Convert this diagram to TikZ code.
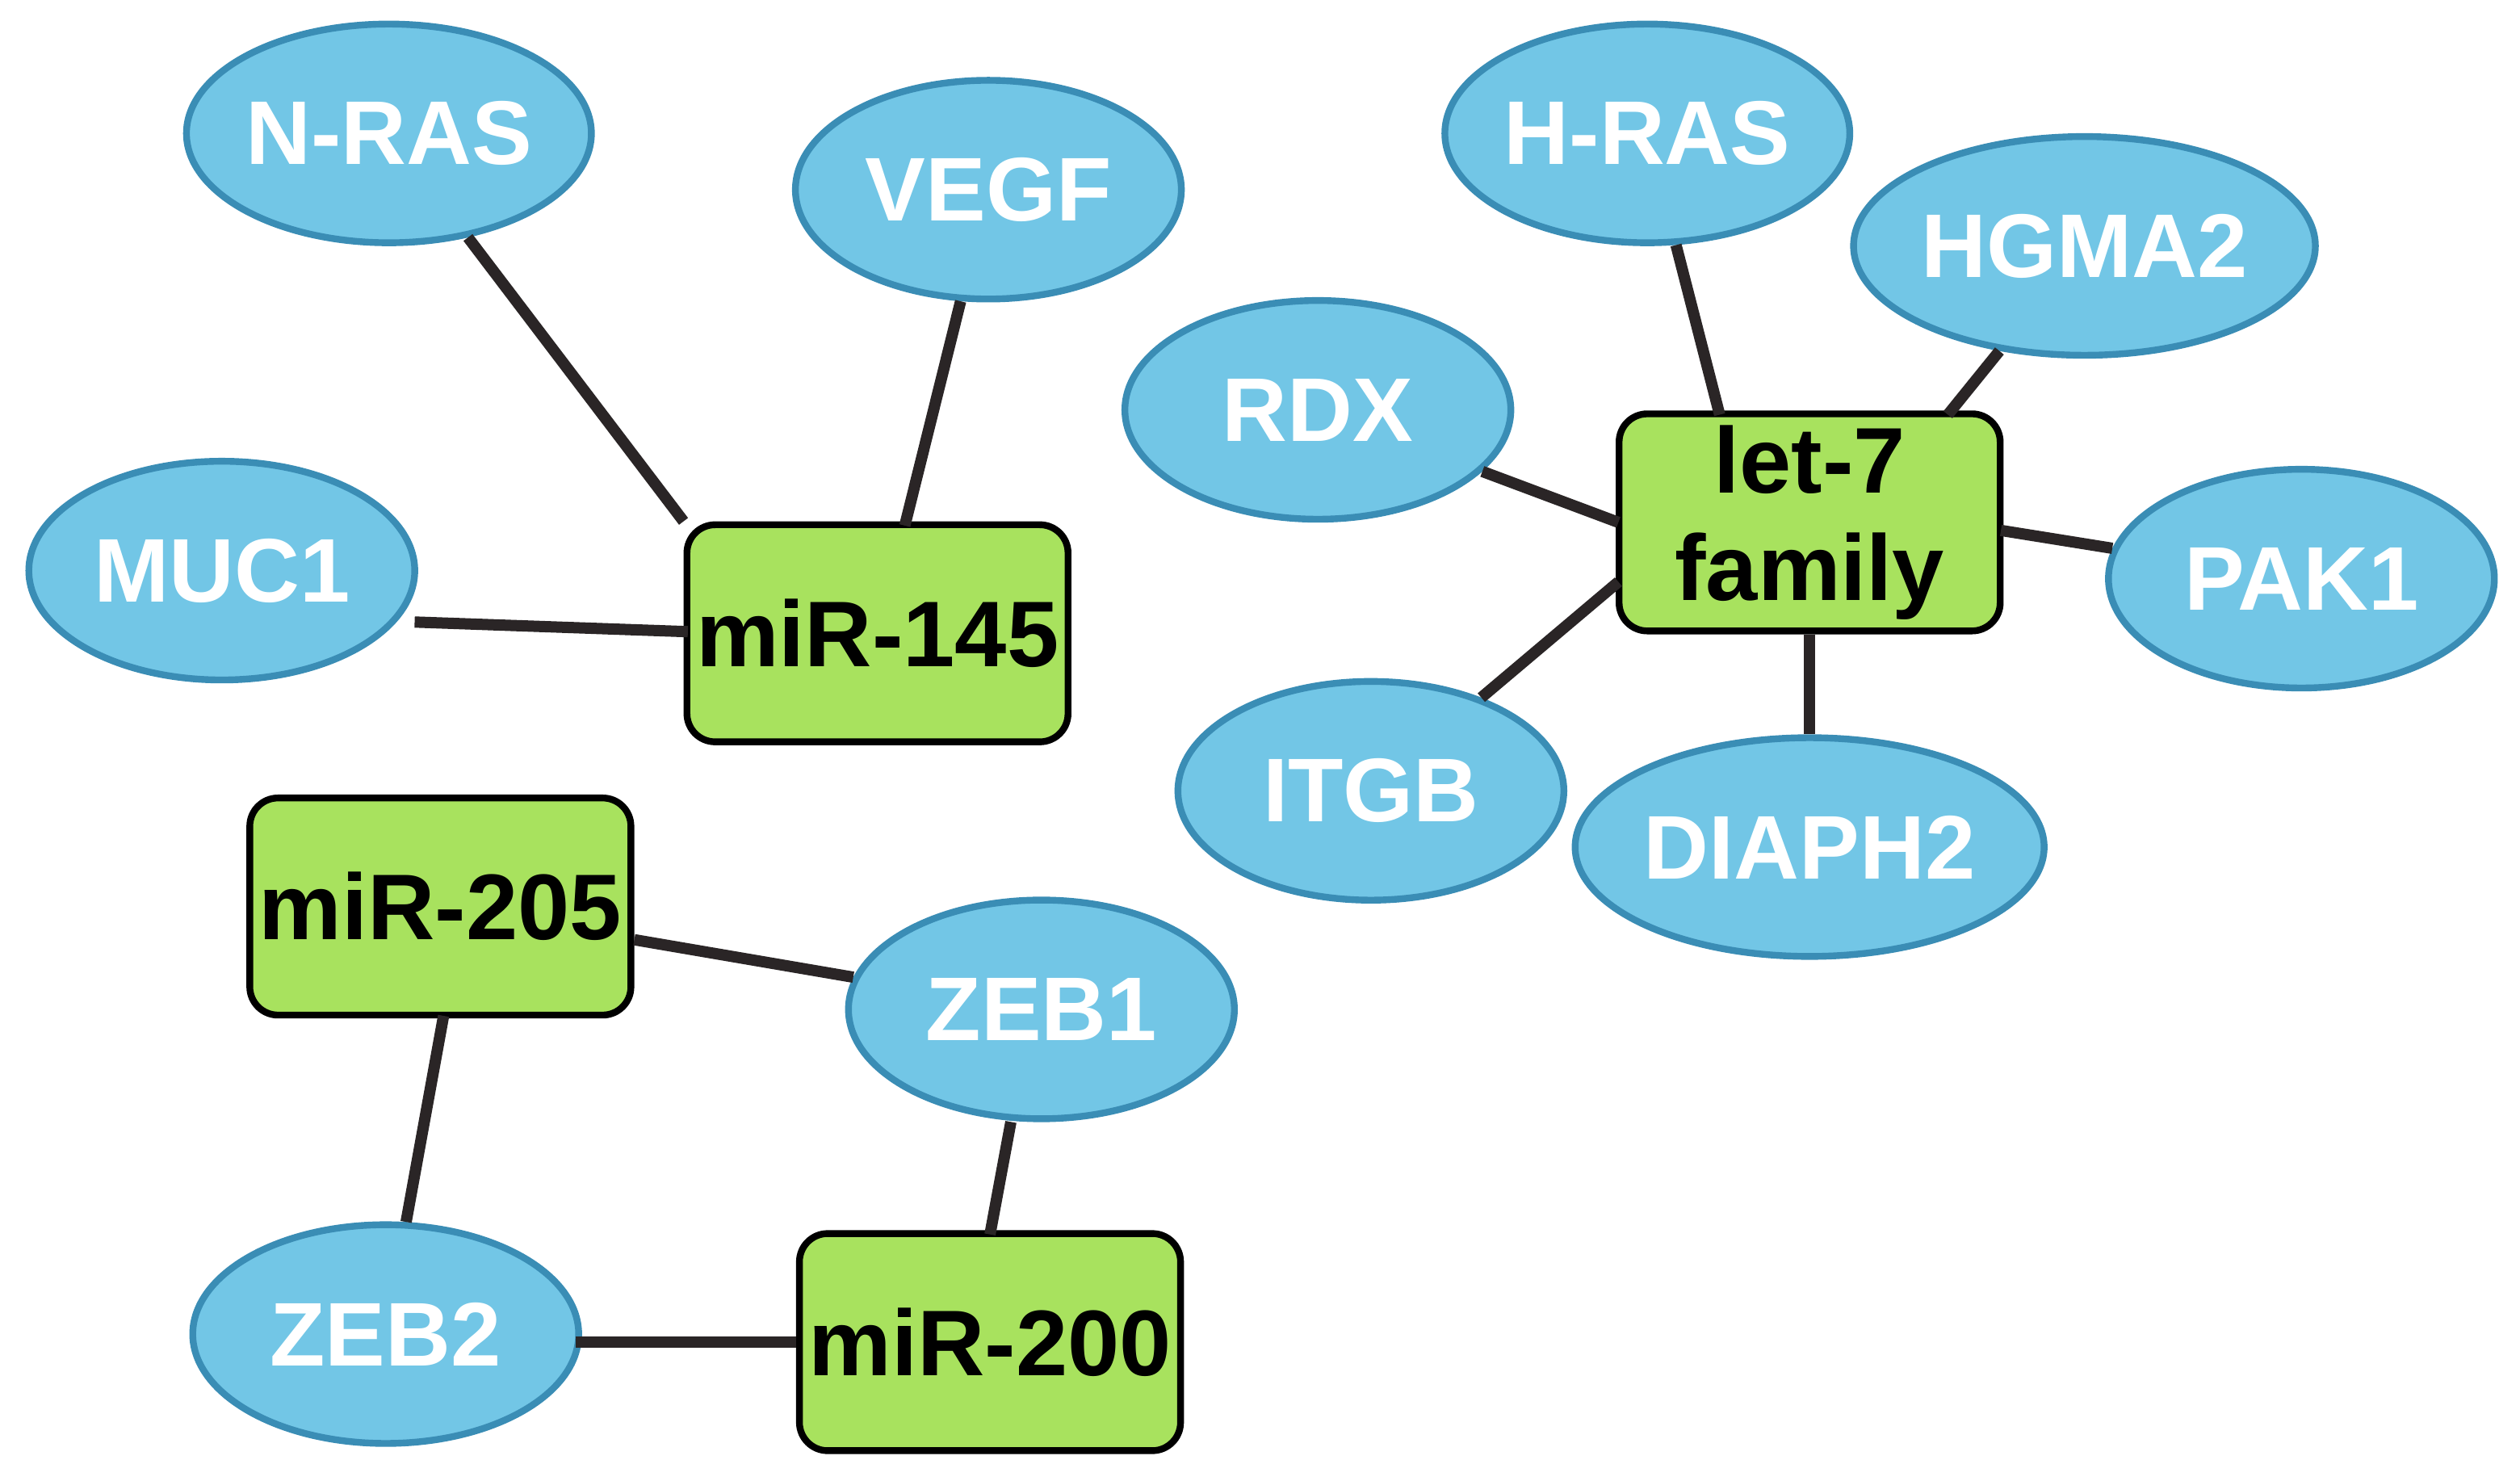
\documentclass[tikz,border=0pt]{standalone}
\usepackage{fontspec}
\setmainfont{Liberation Sans}
\usetikzlibrary{shapes.geometric}
\definecolor{ebl}{HTML}{72C6E6}
\definecolor{ebd}{HTML}{3A8DB5}
\definecolor{gr}{HTML}{A8E25E}
\definecolor{ln}{HTML}{2A2526}
\begin{document}
\begin{tikzpicture}[x=0.01cm,y=-0.01cm,
 gene/.style={ellipse,draw=ebd,line width=1.2pt,fill=ebl,inner sep=0pt,minimum width=2.4cm,minimum height=1.36cm,text=white,font=\fontsize{16}{18}\selectfont\bfseries},
 mir/.style={rectangle,rounded corners=5pt,draw=black,line width=1.2pt,fill=gr,inner sep=0pt,minimum width=2.37cm,minimum height=1.35cm,align=center,font=\fontsize{16.5}{19}\selectfont\bfseries},
 e/.style={draw=ln,line width=2pt}]
\useasboundingbox (0,0) rectangle (1568,921);
\node[gene] (nras) at (242,83) {N-RAS};
\node[gene] (vegf) at (615,118) {VEGF};
\node[gene] (muc1) at (138,355) {MUC1};
\node[mir] (m145) at (546,394) {miR-145};
\node[gene] (hras) at (1025,83) {H-RAS};
\node[gene] (hgma) at (1297,153) {HGMA2};
\node[gene] (rdx) at (820,255) {RDX};
\node[mir] (let7) at (1126,325) {let-7\\family};
\node[gene] (pak1) at (1432,360) {PAK1};
\node[gene] (itgb) at (853,492) {ITGB};
\node[gene] (diaph) at (1126,527) {DIAPH2};
\node[mir] (m205) at (274,564) {miR-205};
\node[gene] (zeb1) at (648,628) {ZEB1};
\node[gene] (zeb2) at (240,830) {ZEB2};
\node[mir] (m200) at (616,835) {miR-200};
\coordinate (c145a) at (563,327);
\coordinate (c145b) at (428,393);
\coordinate (cmuc) at (258,387);
\coordinate (clet1) at (1070,258);
\coordinate (clet2) at (1212,258);
\coordinate (clet3) at (1007,325);
\coordinate (clet4) at (1007,362);
\coordinate (clet5) at (1245,330);
\coordinate (c205) at (276,632);
\coordinate (c200) at (616,768);
\coordinate (cz1) at (629,698);
\coordinate (cz2) at (358,835);
\draw[e] (nras) -- (m145.north west);
\draw[e] (vegf) -- (c145a);
\draw[e] (cmuc) -- (c145b);
\draw[e] (hras) -- (clet1);
\draw[e] (hgma) -- (clet2);
\draw[e] (rdx) -- (clet3);
\draw[e] (clet5) -- (pak1);
\draw[e] (clet4) -- (itgb);
\draw[e] (let7) -- (diaph);
\draw[e] (m205) -- (zeb1);
\draw[e] (c205) -- (zeb2);
\draw[e] (cz1) -- (c200);
\draw[e] (cz2) -- (m200);
\end{tikzpicture}
\end{document}
